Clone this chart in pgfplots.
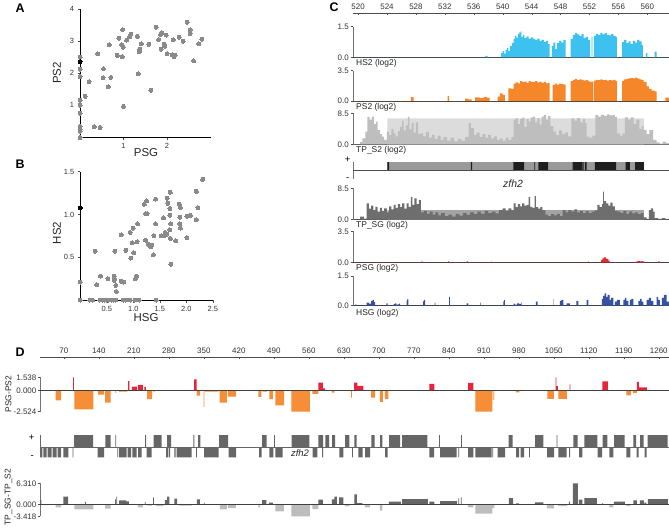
\documentclass[border=0pt]{standalone}
\usepackage{fontspec}
\setmainfont{Liberation Sans}
\usepackage{pgfplots}
\pgfplotsset{compat=1.18}
\definecolor{hsblue}{HTML}{3DC1EE}
\definecolor{psorange}{HTML}{F5862A}
\definecolor{tpgray}{HTML}{BEBEBE}
\definecolor{tpband}{HTML}{DCDCDC}
\definecolor{sggray}{HTML}{6E6E6E}
\definecolor{sgband}{HTML}{A4A4A4}
\definecolor{psgred}{HTML}{E8262C}
\definecolor{hsgblue}{HTML}{3451A3}
\definecolor{genelight}{HTML}{9A9A9A}
\definecolor{genedark}{HTML}{1E1E1E}
\definecolor{dred}{HTML}{E8243C}
\definecolor{dorange}{HTML}{F68D37}
\definecolor{dlorange}{HTML}{F9BB85}
\definecolor{dgene}{HTML}{666666}
\definecolor{dlight}{HTML}{BDBDBD}
\definecolor{scgray}{HTML}{8A8A8A}
\newcommand\tk{\fontsize{7.5}{8}\selectfont}
\newcommand\tkc{\fontsize{8}{9}\selectfont}
\newcommand\lab{\fontsize{8.5}{9}\selectfont}
\pgfplotsset{
 base/.style={scale only axis, anchor=south west, /pgf/number format/assume math mode=true, scaled ticks=false, tick align=outside, major tick length=2.5bp, tick style={black!70, line width=0.5pt}, axis line style={-, line width=0.6pt}},
 ctrack/.style={base, width=316bp, xmin=519.3, xmax=563, ymin=0, axis x line*=bottom, axis y line*=left, xtick=\empty, x axis line style={black!75}, y axis line style={black!55}, tick label style={font=\tkc, text=black!80}, yticklabel style={inner sep=1.5pt}},
 dtrack/.style={base, width=629bp, xmin=22.4, xmax=1280.4, axis x line=none, axis y line*=left, xtick=\empty, y axis line style={black!55}, tick label style={font=\tkc, text=black!80}, yticklabel style={inner sep=1pt}},
 area/.style={const plot, draw=none, fill=#1},
 dotsty/.style={only marks, mark=*, mark size=2bp, color=#1, mark options={solid, fill=#1, draw=#1, line width=0pt}},
}
\begin{document}
\begin{tikzpicture}
\path[use as bounding box] (0,0) rectangle (669bp,-528bp);

% ---------------- Panel A
\begin{axis}[base, at={(80bp,-137.5bp)}, width=130.5bp, height=128.5bp,
 xmin=0, xmax=3, ymin=0, ymax=4, axis lines*=left, axis line style={black},
 xtick={1,2}, xticklabels={1,2}, ytick={1,2,3,4}, yticklabels={1,2,3,4},
 tick label style={font=\tk, text=black!80}, clip=false]
\addplot[dotsty=scgray] coordinates {
(0,2.5)(0,2.13)(0,1.9)(0,1.16)(0,1.0)(0,0.75)(0,0.34)(0,0.26)(0,0.19)(0,0)
(0.12,1.28)(0.21,1.74)(0.33,0.34)(0.41,2.6)(0.46,0.31)(0.53,1.86)(0.54,2.14)(0.65,1.58)(0.67,2.88)(0.71,1.87)
(0.86,2.56)(0.89,3.09)(0.96,2.88)(0.98,3.36)(0.97,2.52)(0.99,2.81)(1.0,0.97)(1.07,3.03)(1.14,3.14)(1.17,3.22)
(1.32,3.15)(1.34,1.98)(1.37,2.75)(1.36,2.67)(1.41,2.92)(1.58,2.9)(1.63,1.47)(1.75,3.43)(1.81,3.05)(1.85,3.2)
(1.88,3.26)(1.87,2.75)(1.94,2.91)(1.95,2.84)(1.98,3.19)(2.0,2.61)(2.14,3.04)(2.12,2.58)(2.16,2.52)(2.19,2.56)
(2.28,3.12)(2.37,3.0)(2.46,3.59)(2.53,3.35)(2.53,3.23)(2.61,2.39)(2.73,2.92)(2.8,3.06)};
\addplot[dotsty=black] coordinates {(0,2.36)};
\end{axis}

% ---------------- Panel B
\begin{axis}[base, at={(80.3bp,-300bp)}, width=132.5bp, height=128.3bp,
 xmin=0, xmax=2.5, ymin=0, ymax=1.5, axis lines*=left, axis line style={black},
 xtick={0.5,1,1.5,2,2.5}, xticklabels={0.5,1.0,1.5,2.0,2.5}, ytick={0.5,1,1.5}, yticklabels={0.5,1.0,1.5},
 tick label style={font=\tk, text=black!80}, clip=false]
\addplot[dotsty=scgray] coordinates {
(0,0)(0.18,0)(0.23,0)(0.37,0)(0.42,0)(0.45,0)(0.5,0)(0.53,0)(0.58,0)(0.62,0)(0.67,0)(0.81,0)(0.86,0)(0.94,0)(1.03,0)(1.11,0)(1.43,0)
(0,0.21)(0.28,0.57)(0.31,0.18)(0.38,0.28)(0.52,0.25)(0.64,0.28)(0.64,0.25)(0.64,0.23)(0.67,0.17)(0.68,0.1)(0.65,0.57)
(0.77,0.22)(0.82,0.21)(0.77,0.76)(0.86,0.58)(0.94,0.79)(0.95,0.49)(0.98,0.67)(1.01,0.55)(1.0,0.84)(1.04,0.25)(1.06,0.28)
(1.07,0.68)(1.08,0.89)(1.21,1.12)(1.25,1.16)(1.23,1.01)(1.26,1.01)(1.23,0.70)(1.28,0.65)(1.3,0.64)(1.33,0.62)(1.35,0.64)
(1.38,0.53)(1.39,0.75)(1.42,1.18)(1.42,0.89)(1.53,0.75)(1.58,0.75)(1.6,0.79)(1.63,0.77)(1.57,0.96)(1.64,1.19)(1.65,1.13)
(1.69,1.07)(1.69,0.99)(1.69,0.82)(1.7,0.72)(1.71,0.42)(1.7,1.26)(1.71,0.89)(1.8,0.69)(1.87,1.12)(1.89,1.08)(1.88,0.97)
(1.88,0.89)(1.89,0.84)(2.01,0.98)(2.01,0.73)(2.08,0.99)(2.19,1.27)(2.19,0.94)(2.22,1.08)(2.31,1.41)};
\addplot[dotsty=black] coordinates {(0,1.08)};
\end{axis}

% ---------------- Panel C ruler
\begin{axis}[scale only axis, anchor=north west, at={(353bp,-13.3bp)}, width=316bp, height=2bp,
 xmin=519.3, xmax=563, ymin=0, ymax=1, axis x line*=top, axis y line=none,
 axis line style={-, black!70, line width=0.7pt}, xtick={520,524,528,532,536,540,544,548,552,556,560},
 xticklabels={520,524,528,532,536,540,544,548,552,556,560}, xticklabel pos=upper,
 tick align=inside, major tick length=2bp, tick style={black!70}, xticklabel style={font=\tkc, text=black!80}]
\end{axis}

% HS2
\begin{axis}[ctrack, at={(353bp,-57.3bp)}, height=30.6bp, ymax=1.5, ytick={0,1.5}, yticklabels={0.0,1.5}]
\addplot[area=hsblue] coordinates {(519.3,0)(537.6,0.07)(537.9,0)(539.8,0.22)(540.0,0.3)(540.2,0.18)(540.4,0.35)(540.6,0.45)(540.8,0.3)(541.0,0.55)(541.3,0.7)(541.5,0.9)(541.7,1.05)(541.9,0.95)(542.1,1.15)(542.3,1.22)(542.5,1.3)(542.6,1.0)(542.8,1.1)(543.0,0.95)(543.3,1.02)(543.6,0.92)(543.9,0.98)(544.2,0.9)(544.5,0.85)(544.8,0.92)(545.1,0.8)(545.4,0.85)(545.7,0.75)(546.0,0.8)(546.3,0.65)(546.5,0)(546.8,0.55)(547.0,0.72)(547.3,0.4)(547.5,0.7)(547.8,0.8)(548.1,0.72)(548.4,0.85)(548.7,0)(549.4,0.9)(549.7,1.1)(550.0,1.2)(550.3,1.12)(550.6,1.05)(550.9,1.15)(551.2,0.95)(551.5,1.0)(551.8,0.85)(552.1,0)(552.3,1.0)(552.4,0)(552.6,1.05)(552.9,1.15)(553.2,1.1)(553.5,1.2)(553.8,1.12)(554.1,1.18)(554.4,1.1)(554.7,1.08)(555.0,1.15)(555.3,1.05)(555.6,1.0)(555.8,0)(556.5,0.75)(556.8,0.85)(557.1,0.7)(557.4,0.78)(557.7,0.65)(558.0,0.8)(558.3,0.72)(558.6,0.85)(558.9,0.78)(559.2,0.6)(559.4,0)(559.8,0.2)(560.0,0)(561.0,0.28)(561.3,0)(563,0)};
\end{axis}

% PS2
\begin{axis}[ctrack, at={(353bp,-101bp)}, height=30.3bp, ymax=3.5, ytick={0,3.5}, yticklabels={0.0,3.5}]
\addplot[area=psorange] coordinates {(519.3,0)(527.3,0.46)(527.7,0)(532.4,0.58)(532.6,0)(534.8,0.27)(535.2,0.2)(535.7,0)(536.2,0.42)(536.8,0.35)(537.4,0.45)(537.8,0.38)(538.2,0)(539.3,0.5)(539.6,0.88)(540.0,0.7)(540.3,0)(540.8,1.46)(541.2,1.4)(541.5,2.0)(541.8,2.15)(542.1,2.05)(542.4,2.3)(542.7,2.2)(543.0,2.25)(543.3,2.1)(543.6,2.3)(543.9,2.2)(544.2,2.18)(544.5,2.3)(544.8,2.15)(545.1,2.25)(545.4,2.1)(545.7,2.2)(546.0,2.05)(546.3,2.1)(546.5,0)(546.9,1.85)(547.2,2.0)(547.5,1.9)(547.8,2.0)(548.1,1.95)(548.4,1.9)(548.7,0)(549.4,2.3)(549.7,2.45)(550.0,2.55)(550.3,2.4)(550.6,2.5)(550.9,2.45)(551.2,2.35)(551.5,2.4)(551.8,2.3)(552.0,2.2)(552.3,2.25)(552.5,0)(552.6,2.35)(552.9,2.45)(553.2,2.4)(553.5,2.5)(553.8,2.4)(554.1,2.45)(554.4,2.35)(554.7,2.42)(555.0,2.38)(555.3,2.45)(555.6,2.3)(555.8,0)(556.5,2.3)(556.8,2.5)(557.1,2.55)(557.4,2.6)(557.7,2.65)(558.0,2.6)(558.3,2.7)(558.6,2.6)(558.9,2.5)(559.2,2.4)(559.5,2.2)(559.9,1.7)(560.2,1.4)(560.6,1.2)(561.0,1.1)(561.3,0)(562.5,0.38)(563,0)};
\end{axis}

% TP_S2
\begin{axis}[ctrack, at={(353bp,-144.3bp)}, height=31bp, ymax=8.5, ytick={0,8.5}, yticklabels={0.0,8.5}]
\addplot[area=tpband] coordinates {(519.3,0)(524.06,7.1)(559.54,0)(563,0)};
\addplot[area=tpgray] coordinates {(519.3,0)(520.3,0.6)(520.6,1.6)(521.0,3.5)(521.3,7.5)(521.6,6.8)(521.9,7.6)(522.2,5.5)(522.5,6.2)(522.7,3.9)(523.0,2.8)(523.3,2.1)(523.6,1.2)(524.0,3.5)(524.3,2.5)(524.6,4.2)(524.9,3.0)(525.2,2.2)(525.5,3.6)(525.8,4.8)(526.1,6.5)(526.3,3.8)(526.6,5.2)(526.9,7.6)(527.1,4.1)(527.4,5.8)(527.7,3.2)(528.0,6.0)(528.3,2.8)(528.6,3.0)(529.0,2.2)(529.4,3.4)(529.8,1.8)(530.2,2.6)(530.6,1.5)(531.0,2.4)(531.4,1.2)(531.8,2.0)(532.3,1.0)(532.8,1.8)(533.3,0.8)(533.8,1.5)(534.3,1.0)(534.8,2.0)(535.3,5.8)(535.6,4.5)(536.0,2.6)(536.4,3.2)(536.8,2.0)(537.2,2.8)(537.6,1.8)(538.0,2.5)(538.4,1.6)(538.8,2.2)(539.2,1.2)(539.6,1.6)(540.0,1.0)(540.4,1.8)(540.8,1.2)(541.2,2.0)(541.5,6.8)(541.8,7.1)(542.1,5.5)(542.4,6.9)(542.7,7.3)(543.0,4.8)(543.3,7.0)(543.6,6.2)(543.9,7.4)(544.2,7.6)(544.5,6.0)(544.8,7.2)(545.1,5.4)(545.4,7.6)(545.7,8.0)(546.0,6.6)(546.3,7.8)(546.6,5.0)(547.0,3.5)(547.4,2.5)(547.8,3.8)(548.2,2.8)(548.6,3.3)(549.0,2.2)(549.5,7.1)(549.9,6.5)(550.3,7.2)(550.7,6.0)(551.1,7.0)(551.4,5.8)(551.6,2.1)(552.0,1.8)(552.4,2.4)(552.8,8.0)(553.2,7.6)(553.6,8.1)(554.0,7.8)(554.4,8.2)(554.8,7.9)(555.2,8.0)(555.5,7.5)(555.8,3.0)(556.2,2.4)(556.6,3.0)(556.9,7.4)(557.3,6.8)(557.7,7.4)(558.1,5.6)(558.5,6.8)(558.9,4.2)(559.2,5.0)(559.5,3.9)(559.9,2.8)(560.3,3.9)(560.8,1.2)(561.3,0.5)(561.7,0.2)(562.1,0.7)(562.6,0.3)(563,0)};
\end{axis}

% gene C
\begin{axis}[base, at={(353bp,-179.4bp)}, width=316bp, height=17.4bp, xmin=519.3, xmax=563, ymin=-1, ymax=1,
 axis x line=none, axis y line*=left, y axis line style={black!55}, xtick=\empty, ytick=\empty]
\addplot[area=genelight] coordinates {(519.3,0)(524.06,1)(559.54,0)(563,0)};
\addplot[area=genedark] coordinates {(519.3,0)(524.06,1)(524.29,0)(535.6,1)(535.76,0)(541.47,1)(542.95,0)(544.38,1)(544.5,0)(544.93,1)(546.3,0)(549.68,1)(551.06,0)(551.15,1)(551.24,0)(551.38,1)(551.61,0)(552.76,1)(555.67,0)(557.0,1)(557.6,0)(558.3,1)(559.54,0)(563,0)};
\addplot[black!70, line width=0.6pt] coordinates {(519.3,0)(563,0)};
\end{axis}

% TP_SG
\begin{axis}[ctrack, at={(353bp,-219.7bp)}, height=31.4bp, ymax=8.5, ytick={0,8.5}, yticklabels={0.0,8.5}]
\addplot[area=sgband] coordinates {(519.3,0)(524.06,2.6)(559.54,0)(563,0)};
\addplot[area=sggray] coordinates {(519.3,0)(520.3,0.8)(520.8,0.3)(521.2,4.4)(521.5,3.0)(521.8,3.8)(522.1,2.6)(522.4,3.5)(522.7,2.2)(523.0,3.2)(523.3,2.4)(523.6,3.1)(524.0,2.0)(524.3,3.6)(524.6,2.8)(524.9,4.0)(525.2,3.2)(525.5,4.2)(525.8,3.4)(526.1,4.4)(526.4,3.0)(526.7,4.4)(527.0,3.5)(527.3,6.2)(527.5,4.0)(527.8,5.8)(528.1,4.2)(528.4,5.3)(528.7,2.0)(529.1,2.4)(529.5,1.6)(529.9,2.2)(530.3,1.4)(530.7,2.0)(531.1,1.2)(531.5,1.8)(532.0,1.0)(532.5,1.4)(533.0,0.8)(533.5,1.6)(534.0,1.1)(534.5,1.8)(535.0,1.3)(535.5,2.0)(536.0,1.5)(536.5,2.2)(537.0,1.6)(537.5,2.4)(538.0,1.8)(538.5,2.2)(539.0,1.7)(539.5,2.6)(540.0,3.1)(540.4,2.4)(540.8,3.1)(541.2,2.6)(541.5,4.4)(541.8,3.4)(542.1,4.2)(542.4,3.6)(542.7,4.4)(543.0,3.8)(543.3,4.0)(543.6,6.2)(543.8,3.5)(544.1,3.2)(544.4,6.4)(544.6,3.4)(544.9,3.0)(545.2,3.5)(545.5,2.6)(545.9,1.4)(546.3,1.0)(546.7,1.5)(547.1,1.2)(547.5,1.6)(547.9,1.0)(548.3,2.6)(548.7,2.0)(549.1,2.6)(549.5,2.2)(549.9,2.8)(550.3,2.0)(550.7,2.4)(551.1,1.8)(551.5,2.3)(551.9,1.8)(552.3,2.2)(552.7,2.5)(553.1,4.0)(553.4,3.4)(553.7,4.2)(553.9,7.6)(554.0,5.0)(554.3,4.4)(554.6,3.8)(554.9,4.6)(555.2,3.6)(555.5,2.4)(555.9,2.2)(556.3,1.8)(556.7,2.4)(557.1,1.6)(557.5,2.2)(557.9,1.7)(558.3,2.0)(558.7,1.5)(559.1,1.8)(559.5,0.6)(559.9,0.2)(560.2,2.6)(560.5,3.1)(560.8,2.2)(561.0,0.4)(561.5,0.2)(562,0.4)(562.5,0.2)(563,0)};
\end{axis}

% PSG
\begin{axis}[ctrack, at={(353bp,-262.3bp)}, height=31bp, ymax=3.5, ytick={0,3.5}, yticklabels={0.0,3.5}]
\addplot[area=psgred] coordinates {(519.3,0)(528.8,0.15)(528.9,0)(532.5,0.12)(532.6,0)(535.0,0.1)(535.2,0)(538.4,0.08)(538.5,0)(551.8,0.1)(551.9,0)(553.6,0.25)(553.8,0.45)(554.0,0.55)(554.3,0.4)(554.6,0.2)(554.8,0)(558.5,0.1)(558.7,0.15)(559.0,0.1)(559.3,0.12)(559.5,0)(561.5,0.1)(561.7,0)(563,0)};
\end{axis}

% HSG
\begin{axis}[ctrack, at={(353bp,-305.7bp)}, height=29.7bp, ymax=1.5, ytick={0,1.5}, yticklabels={0.0,1.5}]
\addplot[area=hsgblue] coordinates {(519.3,0)(519.6,0.05)(519.8,0)(521.2,0.15)(521.5,0.1)(521.8,0.25)(522.0,0.29)(522.2,0.18)(522.35,0)(523.9,0.12)(524.1,0)(524.9,0.08)(525.1,0.12)(525.3,0.06)(525.6,0.1)(525.8,0)(526.7,0.25)(526.8,0.32)(526.96,0)(529.0,0.22)(529.1,0.3)(529.26,0)(530.6,0.15)(530.7,0)(532.6,0.45)(532.7,0)(535.0,0.12)(535.25,0)(536.9,0.15)(537.0,0)(540.1,0.22)(540.2,0.28)(540.3,0)(541.5,0.1)(541.7,0.05)(542.0,0.12)(542.3,0.08)(542.5,0.15)(542.63,0)(544.6,0.2)(544.84,0)(547.0,0.35)(547.05,0)(547.9,0.25)(548.1,0.3)(548.39,0)(548.85,0.12)(549.3,0)(550.2,0.25)(550.46,0)(551.6,0.3)(551.84,0)(553.7,0.35)(553.9,0.5)(554.1,0.62)(554.3,0.45)(554.5,0.55)(554.8,0.3)(555.0,0.4)(555.3,0)(555.5,0.2)(555.8,0.3)(556.22,0)(556.7,0.3)(556.9,0.4)(557.1,0.25)(557.37,0)(557.6,0.3)(557.8,0.35)(558.06,0)(558.76,0.25)(559.0,0.35)(559.2,0.2)(559.45,0)(559.9,0.3)(560.2,0.4)(560.5,0.25)(560.83,0)(561.3,0.45)(561.5,0.3)(561.75,0)(562.0,0.4)(562.3,0.55)(562.67,0.2)(563,0)};
\end{axis}

% ---------------- Panel D ruler
\begin{axis}[scale only axis, anchor=north west, at={(40bp,-357.3bp)}, width=629bp, height=2bp,
 xmin=22.4, xmax=1280.4, ymin=0, ymax=1, axis x line*=top, axis y line=none,
 axis line style={-, black!70, line width=0.7pt}, xtick={70,140,...,1260},
 xticklabels={70,140,210,280,350,420,490,560,630,700,770,840,910,980,1050,1120,1190,1260}, xticklabel pos=upper,
 tick align=inside, major tick length=2bp, tick style={black!70}, xticklabel style={font=\tkc, text=black!80}]
\end{axis}

% PSG-PS2
\begin{axis}[dtrack, at={(40bp,-411.6bp)}, height=34.3bp, ymin=-2.524, ymax=1.538,
 ytick={-2.524,0,1.538}, yticklabels={-2.524,0.000,1.538}]
\addplot[area=dred] coordinates {(22.4,0)(88.5,1.538)(90,0)(198.4,1.1)(201,0)(206,0.43)(216,0)(218,0.63)(228,0)(231,0.4)(234,0)(330.4,1.3)(335.7,0)(579,0.91)(588,0.24)(592.4,0)(650.4,0.91)(657,0.51)(669,0)(801,0.75)(811,0)(878.4,0.87)(889,0)(1053.5,1.538)(1055,0.5)(1058,0)(1081.5,0.7)(1083,0)(1147,1.06)(1158,0)(1216,0.99)(1220,0.36)(1236,0)(1280.4,0)};
\addplot[area=dorange] coordinates {(22.4,0)(53.7,-1.18)(64.4,0)(91,-2.25)(129,0)(138,-0.51)(150,0)(152.4,-1.46)(163.7,0)(173,-0.3)(174.5,0)(180,-0.16)(197,0)(236.4,-1.06)(246.4,0)(249,-0.24)(251,0)(335.7,-0.63)(342.4,0)(349.5,-2.0)(351,0)(352.4,-0.16)(379,0)(381.7,-1.46)(396,0)(398,-0.75)(414.4,0)(459,-0.79)(465,0)(467,-0.16)(476,0)(481,-1.06)(488,0)(493,-1.78)(510.4,0)(525,-2.524)(562,0)(567,-0.43)(579,0)(606,-0.28)(611,0)(644.5,-0.87)(646,0)(684.4,-0.87)(692.4,0)(702,-1.38)(708,0)(712,-1.06)(719,0)(893,-2.524)(927,0)(974,-0.24)(981,0)(1037,-1.03)(1050,0)(1059,-1.03)(1076,0)(1195,-0.6)(1204,0)(1208,-0.32)(1216,0)(1280.4,0)};
\addplot[area=dlorange] coordinates {(22.4,0)(927,-1.14)(931,0)(1280.4,0)};
\addplot[black!75, line width=0.6pt] coordinates {(22.4,0)(1280.4,0)};
\end{axis}

% gene D
\begin{axis}[base, at={(40bp,-457.3bp)}, width=629bp, height=22.3bp, xmin=22.4, xmax=1280.4, ymin=-1, ymax=1.22,
 axis x line=none, axis y line=none, xtick=\empty, ytick=\empty]
\addplot[area=dgene] coordinates {(22.4,0)(22.5,1.22)(24,0)(90.4,1.22)(128.4,0)(153.1,1.22)(163.7,0)(173.1,1.22)(174.6,0)(232.4,1.22)(234.4,0)(249.7,1.22)(265.7,0)(276.4,1.22)(284.4,0)(329.1,1.22)(331.1,0)(338.4,1.22)(343.1,0)(380.4,1.22)(398.4,0)(466.4,1.22)(475.7,0)(490.4,1.22)(491.9,0)(525.7,1.22)(561.1,0)(579.1,1.22)(588.4,0)(593.1,1.22)(600.4,0)(606.4,1.22)(612.4,0)(632.4,1.22)(641.1,0)(651.1,1.22)(655.7,0)(685.1,1.22)(691.7,0)(702.4,1.22)(707.1,0)(720.4,1.22)(742.4,0)(746.4,1.22)(797.1,0)(820.4,1.22)(821.9,0)(864.4,1.22)(865.9,0)(959.7,1.22)(967.7,0)(1012.4,1.22)(1029.1,0)(1055.7,1.22)(1057.2,0)(1089.1,1.22)(1097.7,0)(1111.1,1.22)(1137.1,0)(1147.7,1.22)(1157.1,0)(1170.4,1.22)(1191.7,0)(1209.1,1.22)(1214.4,0)(1222.4,1.22)(1229.7,0)(1237.7,1.22)(1277.7,0)(1280.4,0)};
\addplot[area=dgene] coordinates {(22.4,0)(22.5,-1)(27.1,0)(29.1,-1)(35.7,0)(37.7,-1)(45.7,0)(47.7,-1)(55.7,0)(57.7,-1)(64.4,0)(69.1,-1)(79.1,0)(87.7,-1)(89.0,0)(137.7,-1)(150.4,0)(177.1,-1)(178.6,0)(180.4,-1)(195.7,0)(197.7,-1)(204.4,0)(207.1,-1)(215.7,0)(218.4,-1)(225.7,0)(235.7,-1)(245.7,0)(274.4,-1)(279.1,0)(280.4,-1)(282.4,0)(291.1,-1)(293.7,0)(295.7,-1)(325.7,0)(334.4,-1)(335.9,0)(350.4,-1)(379.7,0)(399.7,-1)(414.4,0)(460.4,-1)(465.7,0)(481.1,-1)(489.1,0)(493.1,-1)(507.7,0)(567.7,-1)(577.1,0)(586.4,-1)(588.4,0)(621.1,-1)(629.1,0)(646.4,-1)(647.9,0)(659.1,-1)(667.7,0)(672.4,-1)(682.4,0)(712.4,-1)(717.7,0)(801.1,-1)(810.4,0)(822.4,-1)(855.7,0)(859.1,-1)(860.6,0)(878.4,-1)(889.1,0)(893.1,-1)(925.7,0)(927.1,-1)(928.6,0)(937.7,-1)(952.4,0)(974.4,-1)(980.4,0)(983.7,-1)(990.4,0)(1000.4,-1)(1001.9,0)(1036.4,-1)(1050.4,0)(1059.1,-1)(1075.7,0)(1080.4,-1)(1082.4,0)(1100.4,-1)(1107.1,0)(1137.7,-1)(1146.4,0)(1161.1,-1)(1169.1,0)(1195.1,-1)(1203.1,0)(1215.7,-1)(1219.7,0)(1231.7,-1)(1235.7,0)(1280.4,0)};
\addplot[black!60, line width=0.5pt] coordinates {(22.4,0)(1280.4,0)};
\end{axis}

% TP_SG-TP_S2
\begin{axis}[dtrack, at={(40bp,-516.3bp)}, height=33bp, ymin=-3.418, ymax=6.31,
 ytick={-3.418,0,6.31}, yticklabels={-3.418,0.000,6.310}]
\addplot[area=dgene] coordinates {(22.4,0)(22.5,1.38)(25,0)(69,2.36)(78.4,0)(112.5,0.8)(114,0)(172.5,1.57)(174,0)(175,2.36)(176.5,0)(180.4,1.28)(194.4,0.98)(200,0)(232,0.8)(233.5,0)(248.5,2.16)(250,0)(272,1.38)(276.4,2.36)(281,0)(291,1.77)(296.4,0)(336,1.57)(342,0)(350,0.6)(351.5,0)(466.4,1.38)(475,0)(480,0.59)(488,0)(579,1.47)(588,0)(606,1.57)(611,2.36)(616,0)(620.4,2.16)(629,0)(651,3.05)(656,0.5)(667,0)(720,0.88)(744,0)(746.4,1.67)(798,0)(801,0.88)(811,0)(822.4,1.08)(856.4,0)(859,1.9)(860.5,0)(864,2.16)(865.5,0)(960,1.97)(968.4,0)(974,0.4)(980,0)(1012,0.69)(1029,0)(1080,0.88)(1082,0)(1088,6.31)(1098,0)(1100,1.47)(1107,0)(1111,1.97)(1136,0)(1147,0.5)(1148.5,0)(1170,0.88)(1192,0)(1209,1.28)(1216,0)(1222,1.28)(1230,0)(1231,0.6)(1235,0)(1238,1.67)(1278,0)(1280.4,0)};
\addplot[area=dlight] coordinates {(22.4,0)(53.7,-0.79)(64.4,0)(91,-1.38)(129,0)(152.4,-1.18)(163.7,0)(218,-0.79)(228,0)(236,-0.3)(246,0)(254,-0.4)(269,0)(300,-0.3)(326,0)(382,-1.38)(396,0)(398,-0.98)(414,0)(459,-0.79)(462,0)(493,-1.97)(510,0)(525,-3.418)(562,0)(567,-1.28)(579,0)(632,-0.5)(641,0)(672,-0.79)(682,0)(702,-1.77)(707,0)(878,-0.79)(889,0)(893,-2.65)(927,-1.0)(931,0)(1036,-1.08)(1050,0)(1059,-0.4)(1076,0)(1161,-0.79)(1169,0)(1195,-0.4)(1203,0)(1280.4,0)};
\addplot[black!75, line width=0.6pt] coordinates {(22.4,0)(1280.4,0)};
\end{axis}

% ---------------- labels
\begin{scope}[every node/.style={inner sep=0pt}]
\node[font=\bfseries\fontsize{12.5}{13}\selectfont] at (20bp,-8bp) {A};
\node[font=\bfseries\fontsize{12.5}{13}\selectfont] at (20bp,-164bp) {B};
\node[font=\bfseries\fontsize{12.5}{13}\selectfont] at (334bp,-7bp) {C};
\node[font=\bfseries\fontsize{12.5}{13}\selectfont] at (20bp,-352bp) {D};
\node[font=\fontsize{11.5}{12}\selectfont, text=black!85] at (146bp,-153bp) {PSG};
\node[font=\fontsize{11.5}{12}\selectfont, text=black!85, rotate=90] at (57bp,-73bp) {PS2};
\node[font=\fontsize{11.5}{12}\selectfont, text=black!85] at (146bp,-318bp) {HSG};
\node[font=\fontsize{11.5}{12}\selectfont, text=black!85, rotate=90] at (57bp,-233bp) {HS2};
\node[font=\lab, text=black!85, anchor=west] at (356bp,-63.3bp) {HS2 (log2)};
\node[font=\lab, text=black!85, anchor=west] at (356bp,-107.3bp) {PS2 (log2)};
\node[font=\lab, text=black!85, anchor=west] at (356bp,-150.7bp) {TP\_S2 (log2)};
\node[font=\lab, text=black!85, anchor=west] at (356bp,-225bp) {TP\_SG (log2)};
\node[font=\lab, text=black!85, anchor=west] at (356bp,-268.3bp) {PSG (log2)};
\node[font=\lab, text=black!85, anchor=west] at (356bp,-313.3bp) {HSG (log2)};
\node[font=\fontsize{9.5}{10}\selectfont] at (347.7bp,-159.5bp) {+};
\node[font=\fontsize{9.5}{10}\selectfont] at (347.7bp,-179.3bp) {-};
\node[font=\itshape\fontsize{10.5}{11}\selectfont, text=black!85] at (513bp,-183.3bp) {zfh2};
\node[font=\fontsize{9.5}{10}\selectfont] at (31.7bp,-437.3bp) {+};
\node[font=\fontsize{9.5}{10}\selectfont] at (32.3bp,-457.3bp) {-};
\node[font=\itshape\fontsize{9.5}{10}\selectfont, text=black!85] at (300bp,-453.3bp) {zfh2};
\node[font=\lab, text=black!85, rotate=90] at (8.5bp,-394bp) {PSG-PS2};
\node[font=\lab, text=black!85, rotate=90] at (8.5bp,-497bp) {TP\_SG-TP\_S2};
\end{scope}
\end{tikzpicture}
\end{document}
